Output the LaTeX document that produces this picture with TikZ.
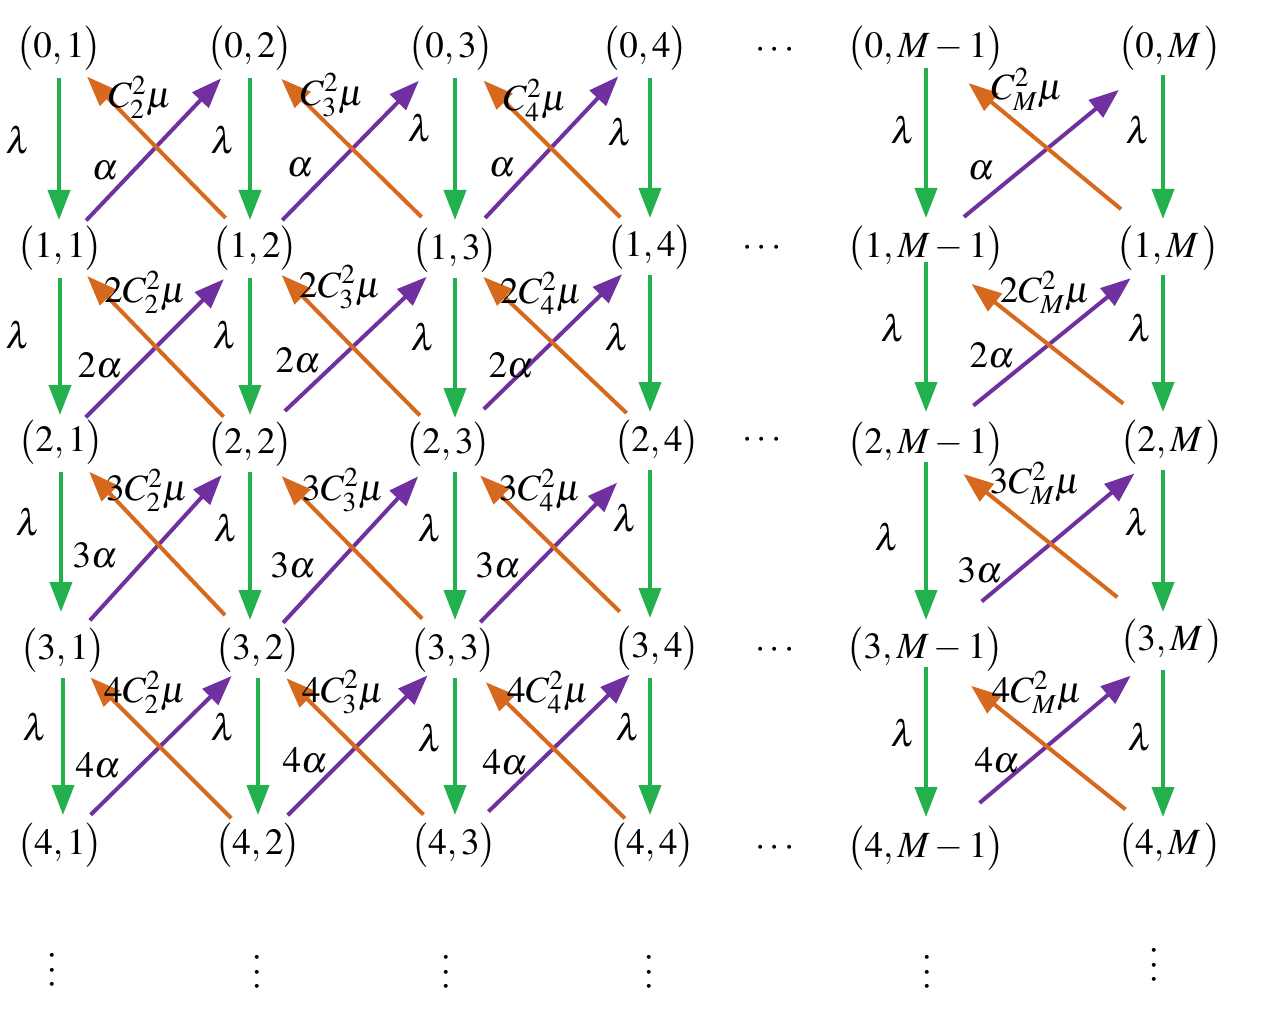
\documentclass[tikz,border=0pt]{standalone}
\usepackage{mathptmx}
\usetikzlibrary{arrows.meta}
\definecolor{cg}{RGB}{34,177,76}
\definecolor{cp}{RGB}{112,48,160}
\definecolor{co}{RGB}{214,105,30}
\newcommand\myG[5]{\draw[ga,shorten <=#4pt,shorten >=#5pt] (#1 |- #2) -- (#1 |- #3);}
\newcommand\myD[5]{\draw[#1,shorten <=#4pt,shorten >=#5pt] (#2.center) -- (#3.center);}
\begin{document}
\begin{tikzpicture}[x=1pt,y=-1pt,
  every node/.style={font=\fontsize{37}{44}\selectfont, inner sep=0pt},
  st/.style={}, lbl/.style={}, vd/.style={rotate=90},
  arr/.style={line width=4pt, -{Triangle[length=30pt,width=22pt]}},
  ga/.style={arr,cg}, pa/.style={arr,cp}, oa/.style={arr,co}]
\useasboundingbox (0,0) rectangle (1261,1011);
% row 0
\node[st] (n01) at (59,48) {$\bigl(0,1\bigr)$};
\node[st] (n02) at (250,48) {$\bigl(0,2\bigr)$};
\node[st] (n03) at (451,48) {$\bigl(0,3\bigr)$};
\node[st] (n04) at (645,48) {$\bigl(0,4\bigr)$};
\node[st] (d0) at (775,50) {$\cdots$};
\node[st] (n05) at (926,48) {$\bigl(0,M-1\bigr)$};
\node[st] (n06) at (1170,48) {$\bigl(0,M\,\bigr)$};
% row 1
\node[st] (n11) at (60,248) {$\bigl(1,1\bigr)$};
\node[st] (n12) at (255,248) {$\bigl(1,2\bigr)$};
\node[st] (n13) at (455,250) {$\bigl(1,3\bigr)$};
\node[st] (n14) at (650,247) {$\bigl(1,4\bigr)$};
\node[st] (d1) at (762,248) {$\cdots$};
\node[st] (n15) at (926,248) {$\bigl(1,M-1\bigr)$};
\node[st] (n16) at (1168,248) {$\bigl(1,M\,\bigr)$};
% row 2
\node[st] (n21) at (61,442) {$\bigl(2,1\bigr)$};
\node[st] (n22) at (250,444) {$\bigl(2,2\bigr)$};
\node[st] (n23) at (448,444) {$\bigl(2,3\bigr)$};
\node[st] (n24) at (657,442) {$\bigl(2,4\bigr)$};
\node[st] (d2) at (762,440) {$\cdots$};
\node[st] (n25) at (926,444) {$\bigl(2,M-1\bigr)$};
\node[st] (n26) at (1172,442) {$\bigl(2,M\,\bigr)$};
% row 3
\node[st] (n31) at (63,650) {$\bigl(3,1\bigr)$};
\node[st] (n32) at (258,650) {$\bigl(3,2\bigr)$};
\node[st] (n33) at (453,650) {$\bigl(3,3\bigr)$};
\node[st] (n34) at (657,648) {$\bigl(3,4\bigr)$};
\node[st] (d3) at (775,650) {$\cdots$};
\node[st] (n35) at (925,649) {$\bigl(3,M-1\bigr)$};
\node[st] (n36) at (1172,641) {$\bigl(3,M\,\bigr)$};
% row 4
\node[st] (n41) at (60,845) {$\bigl(4,1\bigr)$};
\node[st] (n42) at (258,845) {$\bigl(4,2\bigr)$};
\node[st] (n43) at (454,845) {$\bigl(4,3\bigr)$};
\node[st] (n44) at (652,845) {$\bigl(4,4\bigr)$};
\node[st] (d4) at (775,848) {$\cdots$};
\node[st] (n45) at (926,848) {$\bigl(4,M-1\bigr)$};
\node[st] (n46) at (1170,845) {$\bigl(4,M\,\bigr)$};
% vertical dots
\node[vd] (v1) at (53,970) {$\cdots$};
\node[vd] (v2) at (258,972) {$\cdots$};
\node[vd] (v3) at (447,972) {$\cdots$};
\node[vd] (v4) at (650,972) {$\cdots$};
\node[vd] (v5) at (928,972) {$\cdots$};
\node[vd] (v6) at (1155,965) {$\cdots$};
% green arrows
\myG{n01}{n01}{n11}{30}{28}
\myG{n11}{n11}{n21}{30}{27}
\myG{n21}{n21}{n31}{30}{38}
\myG{n31}{n31}{n41}{28}{30}
\myG{n02}{n02}{n12}{30}{28}
\myG{n22}{n12}{n22}{30}{29}
\myG{n22}{n22}{n32}{28}{30}
\myG{n32}{n32}{n42}{28}{30}
\myG{n13}{n03}{n13}{30}{30}
\myG{n13}{n13}{n23}{28}{26}
\myG{n13}{n23}{n33}{28}{30}
\myG{n13}{n33}{n43}{28}{30}
\myG{n14}{n04}{n14}{30}{29}
\myG{n14}{n14}{n24}{28}{30}
\myG{n14}{n24}{n34}{28}{30}
\myG{n14}{n34}{n44}{30}{30}
\myG{n05}{n05}{n15}{20}{30}
\myG{n05}{n15}{n25}{14}{32}
\myG{n05}{n25}{n35}{18}{29}
\myG{n05}{n35}{n45}{18}{31}
\myG{[xshift=-7pt]n06.center}{n06}{n16}{27}{29}
\myG{[xshift=-7pt]n06.center}{n16}{n26}{27}{30}
\myG{[xshift=-7pt]n06.center}{n26}{n36}{28}{29}
\myG{[xshift=-7pt]n06.center}{n36}{n46}{29}{28}
% purple arrows
\myD{pa}{n11}{n02}{38}{42}
\myD{pa}{n12}{n03}{39}{46}
\myD{pa}{n13}{n04}{44}{39}
\myD{pa}{n15}{n06}{49}{66}
\myD{pa}{n21}{n12}{35}{44}
\myD{pa}{n22}{n13}{48}{39}
\myD{pa}{n23}{n14}{50}{39}
\myD{pa}{n25}{n16}{61}{48}
\myD{pa}{n31}{n22}{40}{42}
\myD{pa}{n32}{n23}{37}{44}
\myD{pa}{n33}{n24}{39}{57}
\myD{pa}{n35}{n26}{74}{49}
\myD{pa}{n41}{n32}{43}{37}
\myD{pa}{n42}{n33}{42}{36}
\myD{pa}{n43}{n34}{48}{38}
\myD{pa}{n45}{n36}{70}{54}
% orange arrows
\myD{oa}{n12}{n01}{42}{40}
\myD{oa}{n13}{n02}{47}{44}
\myD{oa}{n14}{n03}{42}{46}
\myD{oa}{n16}{n05}{61}{55}
\myD{oa}{n22}{n11}{38}{39}
\myD{oa}{n23}{n12}{40}{38}
\myD{oa}{n24}{n13}{42}{39}
\myD{oa}{n26}{n15}{62}{58}
\myD{oa}{n32}{n21}{48}{41}
\myD{oa}{n33}{n22}{44}{45}
\myD{oa}{n34}{n23}{52}{45}
\myD{oa}{n36}{n25}{70}{48}
\myD{oa}{n42}{n31}{38}{39}
\myD{oa}{n43}{n32}{43}{40}
\myD{oa}{n44}{n33}{38}{46}
\myD{oa}{n46}{n35}{57}{59}
% labels rows 0-1
\node[lbl] (l01) at (18,140) {$\lambda$};
\node[lbl] (l02) at (223,140) {$\lambda$};
\node[lbl] (l03) at (420,128) {$\lambda$};
\node[lbl] (l04) at (620,132) {$\lambda$};
\node[lbl] (l05) at (903,130) {$\lambda$};
\node[lbl] (l06) at (1138,130) {$\lambda$};
\node[lbl] (a01) at (105,171) {$\alpha$};
\node[lbl] (a02) at (300,168) {$\alpha$};
\node[lbl] (a03) at (502,168) {$\alpha$};
\node[lbl] (a05) at (981,171) {$\alpha$};
\node[lbl] (c01) at (140,97) {$C_2^2\mu$};
\node[lbl] (c02) at (332,95) {$C_3^2\mu$};
\node[lbl] (c03) at (535,100) {$C_4^2\mu$};
\node[lbl] (c05) at (1027,89) {$C_M^2\mu$};
% labels rows 1-2
\node[lbl] (l11) at (18,335) {$\lambda$};
\node[lbl] (l12) at (225,335) {$\lambda$};
\node[lbl] (l13) at (423,337) {$\lambda$};
\node[lbl] (l14) at (617,337) {$\lambda$};
\node[lbl] (l15) at (893,328) {$\lambda$};
\node[lbl] (l16) at (1140,328) {$\lambda$};
\node[lbl] (a11) at (100,365) {$2\alpha$};
\node[lbl] (a12) at (298,360) {$2\alpha$};
\node[lbl] (a13) at (511,365) {$2\alpha$};
\node[lbl] (a15) at (992,355) {$2\alpha$};
\node[lbl] (c11) at (145,292) {$2C_2^2\mu$};
\node[lbl] (c12) at (340,287) {$2C_3^2\mu$};
\node[lbl] (c13) at (541,293) {$2C_4^2\mu$};
\node[lbl] (c15) at (1045,292) {$2C_M^2\mu$};
% labels rows 2-3
\node[lbl] (l21) at (28,522) {$\lambda$};
\node[lbl] (l22) at (226,528) {$\lambda$};
\node[lbl] (l23) at (430,528) {$\lambda$};
\node[lbl] (l24) at (625,518) {$\lambda$};
\node[lbl] (l25) at (887,537) {$\lambda$};
\node[lbl] (l26) at (1137,522) {$\lambda$};
\node[lbl] (a21) at (95,555) {$3\alpha$};
\node[lbl] (a22) at (293,565) {$3\alpha$};
\node[lbl] (a23) at (498,565) {$3\alpha$};
\node[lbl] (a25) at (980,570) {$3\alpha$};
\node[lbl] (c21) at (147,490) {$3C_2^2\mu$};
\node[lbl] (c22) at (343,490) {$3C_3^2\mu$};
\node[lbl] (c23) at (540,490) {$3C_4^2\mu$};
\node[lbl] (c25) at (1035,483) {$3C_M^2\mu$};
% labels rows 3-4
\node[lbl] (l31) at (35,727) {$\lambda$};
\node[lbl] (l32) at (223,727) {$\lambda$};
\node[lbl] (l33) at (430,738) {$\lambda$};
\node[lbl] (l34) at (628,727) {$\lambda$};
\node[lbl] (l35) at (903,733) {$\lambda$};
\node[lbl] (l36) at (1140,737) {$\lambda$};
\node[lbl] (a31) at (98,765) {$4\alpha$};
\node[lbl] (a32) at (305,760) {$4\alpha$};
\node[lbl] (a33) at (505,762) {$4\alpha$};
\node[lbl] (a35) at (997,760) {$4\alpha$};
\node[lbl] (c31) at (145,692) {$4C_2^2\mu$};
\node[lbl] (c32) at (343,692) {$4C_3^2\mu$};
\node[lbl] (c33) at (548,692) {$4C_4^2\mu$};
\node[lbl] (c35) at (1037,692) {$4C_M^2\mu$};
\end{tikzpicture}
\end{document}
